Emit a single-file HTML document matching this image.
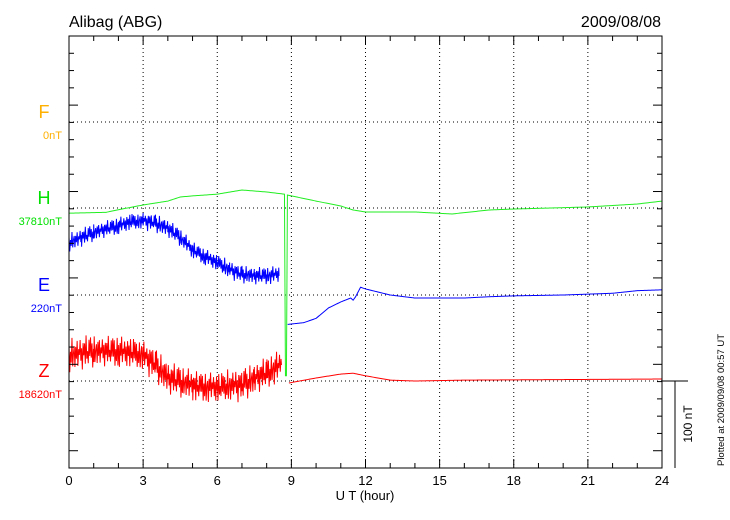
<!DOCTYPE html>
<html><head><meta charset="utf-8"><style>
body{margin:0;background:#fff;}
svg{display:block;font-family:"Liberation Sans",Arial,sans-serif;}
</style></head><body>
<svg id="chart" width="730" height="520">
<text x="69" y="27" font-size="16" fill="#000">Alibag (ABG)</text>
<text x="661" y="27" font-size="16" fill="#000" text-anchor="end">2009/08/08</text>
<g id="grid"></g>
<g id="series"></g>
<g id="axes"></g>
<text x="365" y="500" font-size="13" text-anchor="middle">U T (hour)</text>
<line x1="662" y1="381" x2="688" y2="381" stroke="#000" stroke-width="1"/>
<line x1="675" y1="381" x2="675" y2="468" stroke="#000" stroke-width="1"/>
<text transform="translate(692,424) rotate(-90)" font-size="12" text-anchor="middle">100 nT</text>
<text transform="translate(724,400) rotate(-90)" font-size="9.5" text-anchor="middle">Plotted at 2009/09/08 00:57 UT</text>
</svg>
<script>
// data (hours, nT relative to baseline)
const xTicks=[0,3,6,9,12,15,18,21,24];
const compNames=["F","H","E","Z"];
const compBase=["0nT","37810nT","220nT","18620nT"];
const hT=[0,1.5,2,3,4,4.5,5,6,7,8,8.72,8.76,8.8,8.84,10,11,11.5,12,14,15.5,17,18,21,23,24];
const hV=[-6,-5,-2,3.5,8,12.7,14,16,20.8,18.5,16,-194,-194,15,8,2.3,-2.3,-4.6,-4.6,-6.9,-2.3,-1.2,1.2,4.6,8];
const eT=[0,0.5,1,2,2.5,3,3.5,4,4.5,5,5.5,6,6.5,7,7.5,8,8.5,null,8.85,9.5,10,10.5,11,11.4,11.5,11.6,11.8,12,13,14,16,17,18,20,21,22,23,24];
const eV=[61,66,72,80,84,86,83,77,66,52,44,37,29,24,22,22,24,null,-34,-32,-27,-15,-8,-3.5,-6,-2,9,7,0,-3.5,-3.5,-2,-1,0,1,2,5,6];
const zT=[0,1,2,3,3.5,4,5,6,7,7.5,8,8.6,null,8.9,10,11,11.5,12,13,14,16,24];
const zV=[30,34,34,30,18.5,3.5,-6,-8,-4.6,2.3,9,18.5,null,-2.3,3.5,8,9,6,1,0,1,2.3];
const eNoise=11, zNoise=20, noiseEnd=8.6;
const jitter=[0.9,-0.4,0.7,-1,0.2,-0.6,1,-0.8,0.1,0.5,-0.9,0.6,-0.3,0.95,-0.7,0.3,-0.1,0.8,-0.5,0.4,-1,0.7,-0.2,0.6,-0.8,1,-0.4,0.1,-0.65,0.85,-0.3];

const L=69,R=662,T=36,B=468;
const bases=[122,208,295,381];
const pxPerNT=86.5/100;
const xs=h=>L+(R-L)*h/24;
const ns="http://www.w3.org/2000/svg";
function mk(tag,attrs,parent){const e=document.createElementNS(ns,tag);for(const k in attrs)e.setAttribute(k,attrs[k]);parent.appendChild(e);return e;}
const grid=document.getElementById('grid'),axes=document.getElementById('axes'),ser=document.getElementById('series');
xTicks.forEach(t=>{if(t>0&&t<24){const l=mk('line',{x1:xs(t),x2:xs(t),y1:T,y2:B,stroke:'#000','stroke-dasharray':'1,3','stroke-width':1},grid);
}});
bases.forEach(b=>{const l=mk('line',{x1:L,x2:R,y1:b,y2:b,stroke:'#000','stroke-dasharray':'1,3','stroke-width':1},grid);
});
const fr=mk('rect',{x:L,y:T,width:R-L,height:B-T,fill:'none',stroke:'#000','stroke-width':1},axes);

for(let h=0;h<=24;h++){const x=xs(h);const len=h%3===0?9:5;
 const a=mk('line',{x1:x,x2:x,y1:B,y2:B-len,stroke:'#000'},axes);
 const b=mk('line',{x1:x,x2:x,y1:T,y2:T+len,stroke:'#000'},axes);}
for(let i=0;i<=25;i++){const y=T+(B-T)*i/25;const len=i%5===4?9:5;
 const a=mk('line',{x1:L,x2:L+len,y1:y,y2:y,stroke:'#000'},axes);
 const b=mk('line',{x1:R,x2:R-len,y1:y,y2:y,stroke:'#000'},axes);}
xTicks.forEach(t=>{const tx=mk('text',{x:xs(t),y:485,'font-size':13,'text-anchor':'middle'},axes);tx.textContent=t;
 });
const cols=["#ffb000","#00e000","#0000ff","#ff0000"];
compNames.forEach((n,i)=>{const a=mk('text',{x:44,y:bases[i]-4,'font-size':18,'text-anchor':'middle',fill:cols[i]},axes);a.textContent=n;
 
 const b=mk('text',{x:62,y:bases[i]+17,'font-size':11,'text-anchor':'end',fill:cols[i]},axes);b.textContent=compBase[i];
 });
function interp(T_,V,t){for(let i=0;i<T_.length-1;i++){if(T_[i]===null||T_[i+1]===null)continue;if(t>=T_[i]&&t<=T_[i+1]){const f=(t-T_[i])/(T_[i+1]-T_[i]||1);return V[i]+f*(V[i+1]-V[i]);}}return null;}
function draw(T_,V,base,col,noise,name){
 let segs=[[]];T_.forEach((t,i)=>{if(t===null)segs.push([]);else segs[segs.length-1].push(i);});
 let d='';segs.forEach(s=>{if(!s.length)return;const t0=T_[s[0]],t1=T_[s[s.length-1]];let k=0;let first=true;
  const pts=[];for(let t=t0;t<=t1+1e-9;t+=noise?0.03:0.05){pts.push(t);} s.forEach(i=>pts.push(T_[i]));pts.sort((a,b)=>a-b);
  pts.forEach(t=>{let v=interp(T_,V,t);if(v===null)return;if(noise&&t<noiseEnd){k++;v+=noise*jitter[k%jitter.length]*(0.7+0.3*((k*7)%11)/10);}
   const y=base-v*pxPerNT;d+=(first?'M':'L')+xs(t).toFixed(2)+','+y.toFixed(2);first=false;});});
 const p=mk('path',{d:d,fill:'none',stroke:col,'stroke-width':1},ser);
 }
draw(hT,hV,bases[1],"#22ee22",0,'h-series-line');
draw(eT,eV,bases[2],"#0000ff",eNoise,'e-series-line');
draw(zT,zV,bases[3],"#ff0000",zNoise,'z-series-line');
</script>
</body></html>
